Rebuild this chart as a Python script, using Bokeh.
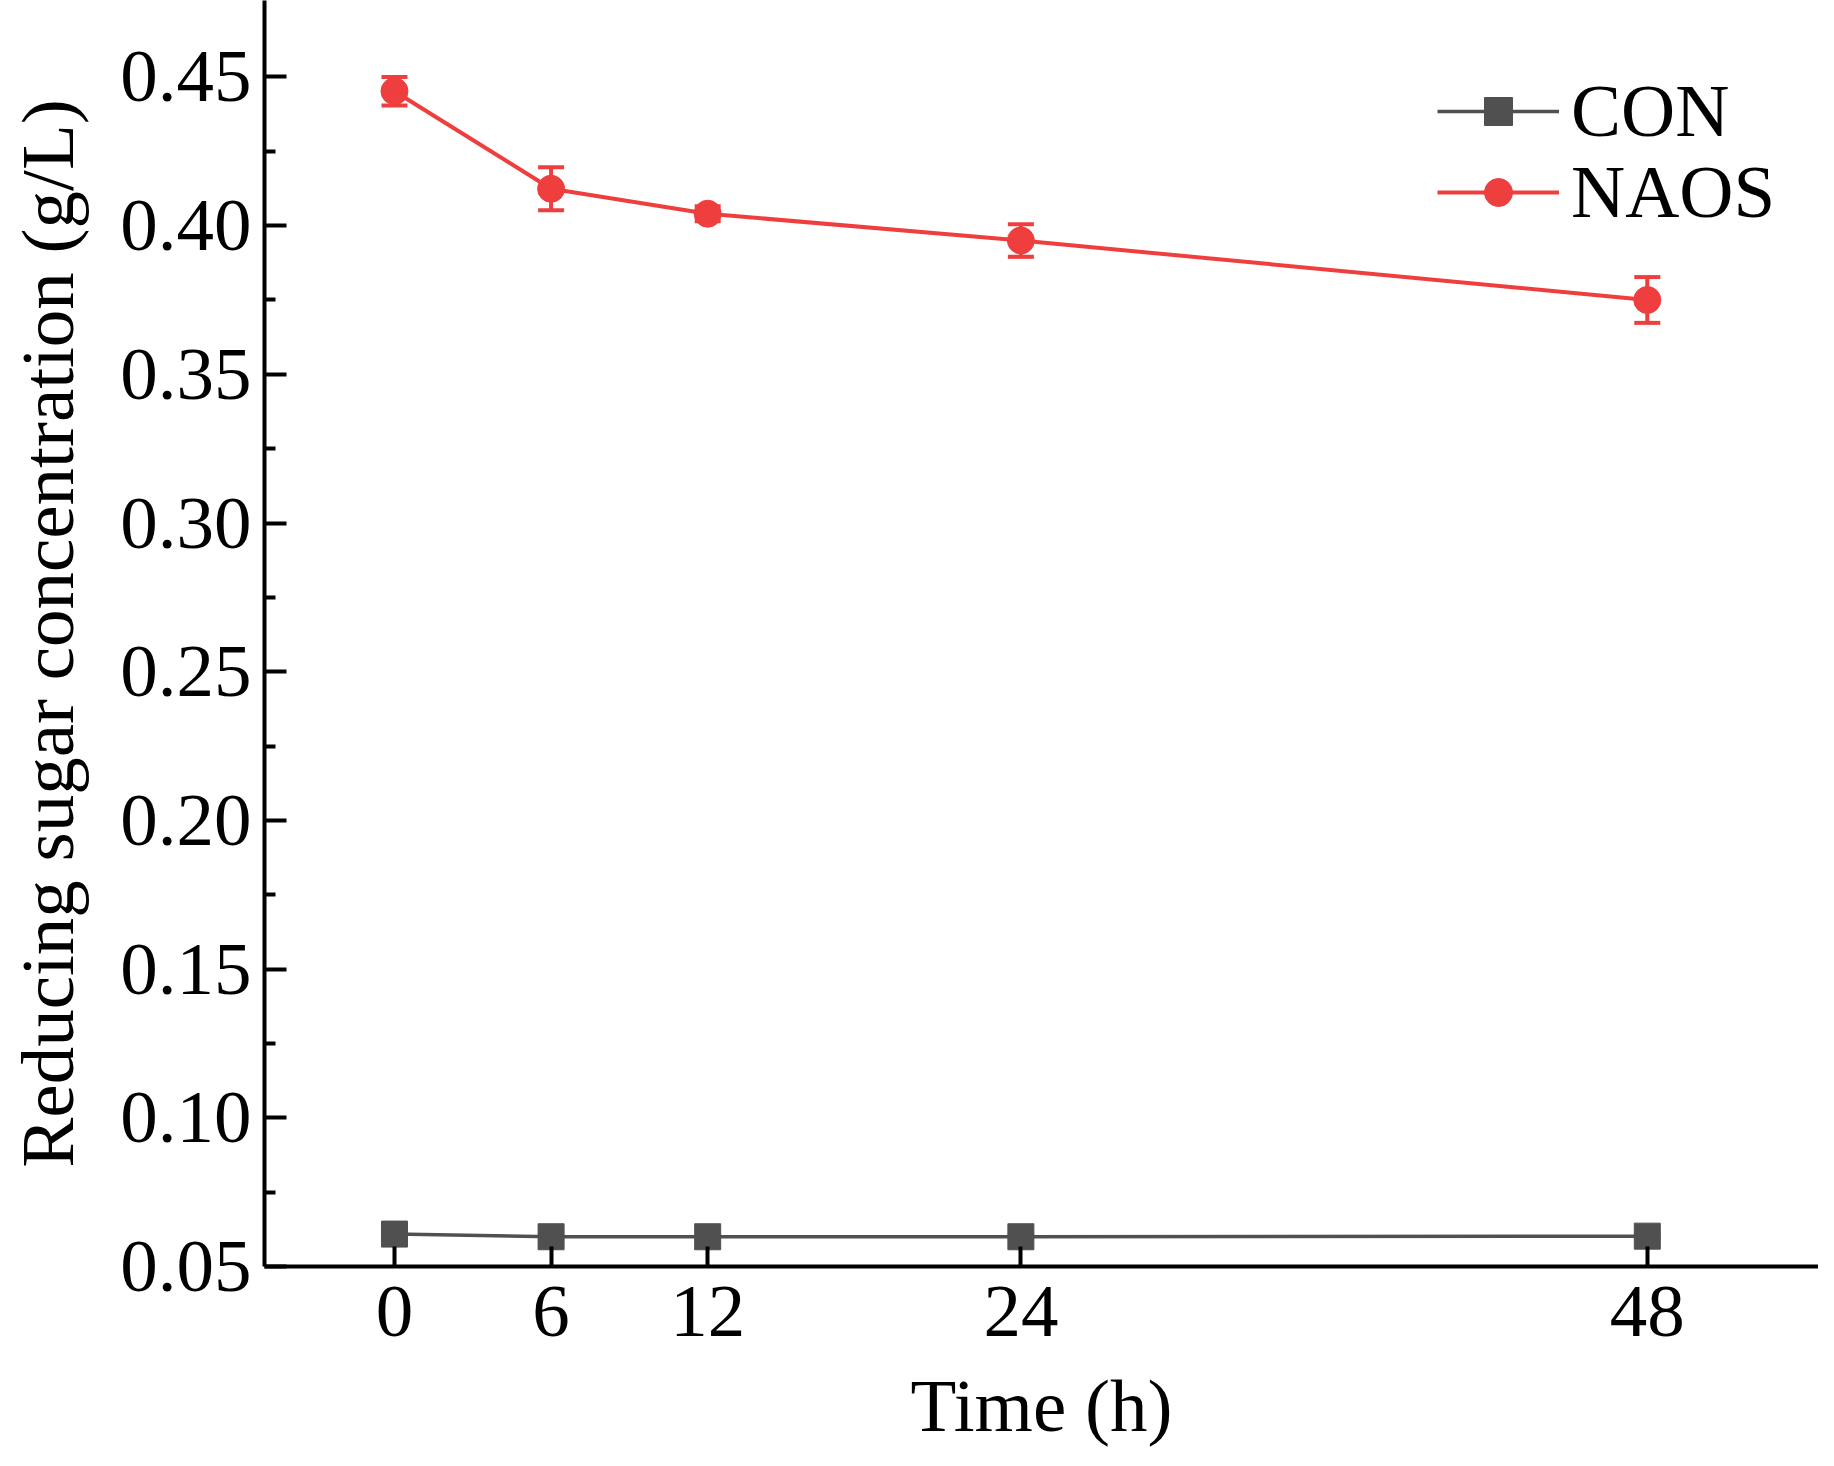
from bokeh.plotting import figure
from bokeh.models import (ColumnDataSource, Whisker, TeeHead, FixedTicker, Legend,
                          LegendItem, Range1d, PrintfTickFormatter)
from bokeh.embed import file_html
from bokeh.resources import INLINE

# ---- data ----
time_h = [0, 6, 12, 24, 48]
con = [0.0609, 0.0600, 0.0600, 0.0600, 0.0602]
con_err = [0.0006, 0.0005, 0.0005, 0.0005, 0.0006]
naos = [0.4452, 0.4124, 0.4040, 0.3950, 0.3750]
naos_err = [0.0048, 0.0072, 0.0025, 0.0055, 0.0077]
x_ticks = [0, 6, 12, 24, 48]
y_ticks = [0.05, 0.10, 0.15, 0.20, 0.25, 0.30, 0.35, 0.40, 0.45]
y_minor = [0.075, 0.125, 0.175, 0.225, 0.275, 0.325, 0.375, 0.425]
series_names = ["CON", "NAOS"]

FONT = "Liberation Serif"
RED = "#EF3E3E"
GRAY = "#505050"
FS = "75px"

p = figure(width=1818, height=1450, output_backend="svg", toolbar_location=None,
           x_range=Range1d(-4.98, 54.56), y_range=Range1d(0.05, 0.4757),
           min_border_left=264, min_border_right=0, min_border_top=0,
           min_border_bottom=184)
p.outline_line_color = None
p.grid.visible = False
p.background_fill_color = "white"
p.border_fill_color = "white"

src_con = ColumnDataSource(dict(t=time_h, y=con,
                                up=[v + e for v, e in zip(con, con_err)],
                                lo=[v - e for v, e in zip(con, con_err)]))
src_naos = ColumnDataSource(dict(t=time_h, y=naos,
                                 up=[v + e for v, e in zip(naos, naos_err)],
                                 lo=[v - e for v, e in zip(naos, naos_err)]))

for src, col in ((src_con, GRAY), (src_naos, RED)):
    w = Whisker(base="t", upper="up", lower="lo", source=src,
                line_color=col, line_width=4,
                upper_head=TeeHead(size=26, line_color=col, line_width=4),
                lower_head=TeeHead(size=26, line_color=col, line_width=4))
    p.add_layout(w)

con_line = p.line("t", "y", source=src_con, line_color=GRAY, line_width=3.5)
con_pts = p.scatter("t", "y", source=src_con, marker="square", size=26,
                    fill_color=GRAY, line_color=GRAY)
naos_line = p.line("t", "y", source=src_naos, line_color=RED, line_width=4)
naos_pts = p.scatter("t", "y", source=src_naos, marker="circle", size=27,
                     fill_color=RED, line_color=RED)

# one legend per entry so that row positions can be set exactly
for name, rends, loc in ((series_names[0], [con_line, con_pts], (1173, 1112)),
                         (series_names[1], [naos_line, naos_pts], (1173, 1031))):
    lg = Legend(items=[LegendItem(label=name, renderers=rends)],
                location=loc, glyph_width=122, glyph_height=70,
                label_standoff=12, spacing=0, padding=10, margin=0,
                border_line_color=None, background_fill_alpha=0,
                label_text_font=FONT, label_text_font_size=FS,
                label_text_color="black")
    p.add_layout(lg)

# ---- axes ----
p.xaxis.ticker = FixedTicker(ticks=x_ticks, minor_ticks=[])
p.yaxis.ticker = FixedTicker(ticks=y_ticks, minor_ticks=y_minor)
p.yaxis.formatter = PrintfTickFormatter(format="%.2f")
p.xaxis.axis_label = "Time (h)"
p.yaxis.axis_label = "Reducing sugar concentration (g/L)"

for ax in (p.xaxis, p.yaxis):
    ax.axis_line_width = 4
    ax.axis_line_color = "black"
    ax.major_tick_line_width = 4
    ax.minor_tick_line_width = 4
    ax.major_tick_line_color = "black"
    ax.minor_tick_line_color = "black"
    ax.major_tick_out = 0
    ax.minor_tick_out = 0
    ax.major_label_text_font = FONT
    ax.major_label_text_font_size = FS
    ax.major_label_text_color = "black"
    ax.axis_label_text_font = FONT
    ax.axis_label_text_font_size = FS
    ax.axis_label_text_font_style = "normal"
    ax.axis_label_text_color = "black"

p.xaxis.major_tick_in = 20
p.yaxis.major_tick_in = 22
p.yaxis.minor_tick_in = 11
p.xaxis.major_label_standoff = 20
p.xaxis.axis_label_standoff = 25
p.yaxis.major_label_standoff = 13
p.yaxis.axis_label_standoff = 28

open("out.html", "w").write(file_html(p, INLINE))
